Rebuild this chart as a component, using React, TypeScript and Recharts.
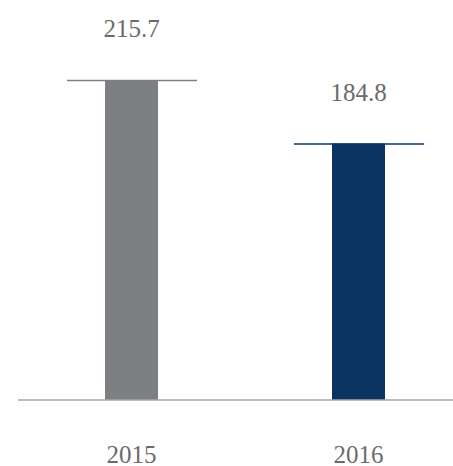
import { BarChart, Bar, XAxis, YAxis, LabelList, Cell } from "recharts";

const years = ["2015", "2016"];
const values = [215.7, 184.8];
const colors = ["#7e7f83", "#0b3463"];

const data = years.map((year, i) => ({ year, value: values[i] }));

const CapBar = (props: any) => {
  const { x, y, width, height, index } = props;
  const color = colors[index];
  return (
    <g>
      <rect x={x} y={y} width={width} height={height} fill={color} />
      <line x1={x - 38} x2={x + width + 39} y1={y + 0.5} y2={y + 0.5} stroke={color} strokeWidth={1.5} />
    </g>
  );
};

const ValueLabel = (props: any) => {
  const { x, y, width, value } = props;
  return (
    <text x={x + width / 2} y={y - 43} textAnchor="middle" fill="#6b6b6b" fontSize={25} fontFamily="'Liberation Serif', serif">
      {value}
    </text>
  );
};

const YearTick = (props: any) => {
  const { x, y, payload } = props;
  return (
    <text x={x} y={y + 55} textAnchor="middle" fill="#6b6b6b" fontSize={25} fontFamily="'Liberation Serif', serif">
      {payload.value}
    </text>
  );
};

const App = () => {
  return (
    <div style={{ position: "absolute", left: 0, top: 0 }}>
      <BarChart width={453} height={466} data={data} margin={{ top: 80, right: -19, bottom: 36, left: 18 }}>
        <XAxis dataKey="year" height={30} axisLine={{ stroke: "#a6a6a6", strokeWidth: 1.5 }} tickLine={false} tick={<YearTick />} interval={0} />
        <YAxis hide domain={[60, "dataMax"]} />
        <Bar dataKey="value" barSize={53} shape={<CapBar />} isAnimationActive={false}>
          {data.map((d, i) => (
            <Cell key={d.year} fill={colors[i]} />
          ))}
          <LabelList dataKey="value" content={<ValueLabel />} />
        </Bar>
      </BarChart>
    </div>
  );
};

export default App;
